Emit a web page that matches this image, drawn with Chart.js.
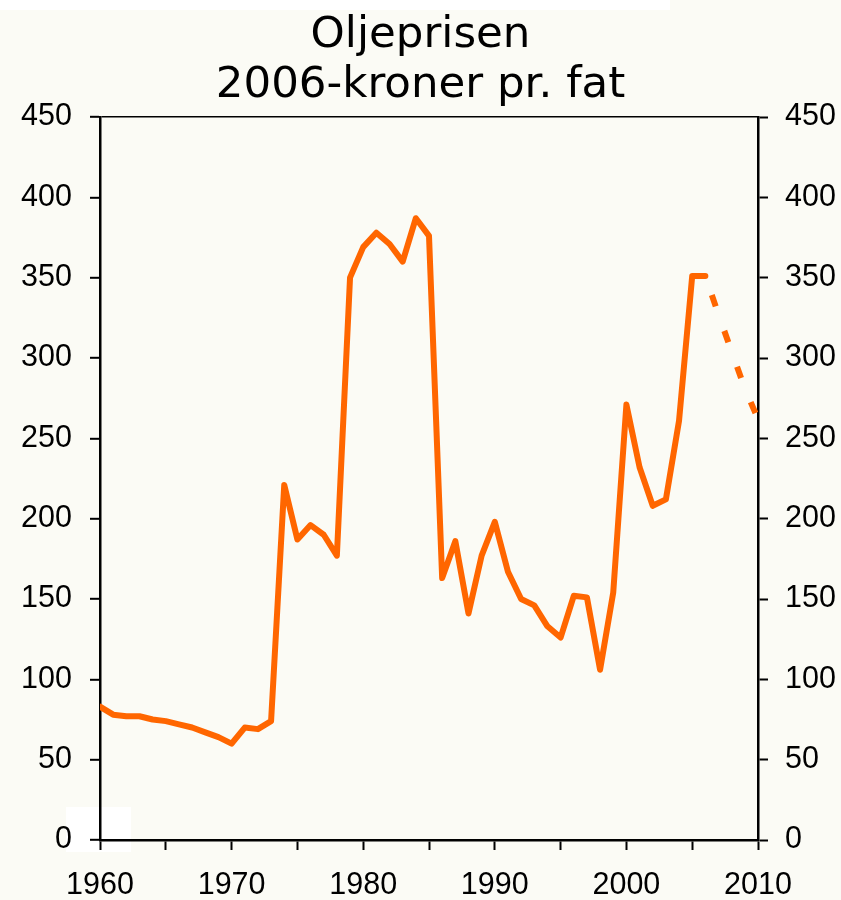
<!DOCTYPE html>
<html>
<head>
<meta charset="utf-8">
<script src="https://cdn.jsdelivr.net/npm/chart.js@4/dist/chart.umd.min.js"></script>
<style>
  html, body { margin: 0; padding: 0; background: #fbfbf5; }
  #wrap { position: relative; width: 841px; height: 900px; overflow: hidden; }
  .patch { position: absolute; background: #ffffff; }
  canvas { position: absolute; left: 0; top: 0; }
</style>
</head>
<body>
<div id="wrap">
  <div class="patch" style="left:0;top:0;width:670px;height:10px;"></div>
  <div class="patch" style="left:66px;top:807px;width:65px;height:45px;"></div>
  <canvas id="c" width="841" height="900"></canvas>
</div>
<script>
const titleLines = ['Oljeprisen', '2006-kroner pr. fat'];

const years = [1960,1961,1962,1963,1964,1965,1966,1967,1968,1969,
               1970,1971,1972,1973,1974,1975,1976,1977,1978,1979,
               1980,1981,1982,1983,1984,1985,1986,1987,1988,1989,
               1990,1991,1992,1993,1994,1995,1996,1997,1998,1999,
               2000,2001,2002,2003,2004,2005,2006];
const price = [83,78,77,77,75,74,72,70,67,64,
               60,70,69,74,221,187,196,190,177,350,
               369,378,371,360,387,376,163,186,141,177,
               198,167,150,146,133,126,152,151,106,154,
               271,232,208,212,261,351,351];

const forecastYears = [2006,2007,2008,2009,2010];
const forecastPrice = [351,327,304,281,262];

const yMin = 0, yMax = 450, yStep = 50;
const xMin = 1960, xMax = 2010, xStep = 5, xLabelEvery = 10;

const ORANGE = '#ff6600';
const tickFont = { family: '"Liberation Sans", Arial, sans-serif', size: 30.5 };

new Chart(document.getElementById('c'), {
  type: 'line',
  data: {
    datasets: [
      {
        data: years.map((y, i) => ({ x: y, y: price[i] })),
        borderColor: ORANGE,
        borderWidth: 6,
        borderJoinStyle: 'round',
        borderCapStyle: 'round',
        pointRadius: 0,
        tension: 0,
        fill: false
      },
      {
        data: forecastYears.map((y, i) => ({ x: y, y: forecastPrice[i] })),
        borderColor: ORANGE,
        borderWidth: 6,
        borderDash: [12, 26],
        borderDashOffset: 18,
        borderCapStyle: 'butt',
        pointRadius: 0,
        tension: 0,
        fill: false
      }
    ]
  },
  options: {
    responsive: false,
    animation: false,
    devicePixelRatio: 1,
    layout: { padding: 0 },
    plugins: {
      legend: { display: false },
      tooltip: { enabled: false },
      title: {
        display: true,
        text: titleLines,
        color: '#000',
        font: { family: '"DejaVu Sans", Verdana, sans-serif', size: 43.5, weight: 'normal', lineHeight: 50 / 43.5 },
        padding: { top: 11, bottom: 6 }
      }
    },
    scales: {
      x: {
        type: 'linear',
        position: 'bottom',
        min: xMin, max: xMax,
        afterFit(s) { s.height = 60; },
        ticks: {
          stepSize: xStep,
          autoSkip: false,
          maxRotation: 0,
          color: '#000',
          font: tickFont,
          padding: 17,
          callback: v => (v % xLabelEvery === 0 ? String(v) : '')
        },
        grid: { drawOnChartArea: false, drawTicks: true, tickLength: 10, tickColor: '#000', tickWidth: 2 },
        border: { display: true, color: '#000', width: 2.5 }
      },
      y: {
        position: 'left',
        min: yMin, max: yMax,
        afterFit(s) { s.width = 100; },
        ticks: { stepSize: yStep, color: '#000', font: tickFont, padding: 18 },
        grid: {
          drawOnChartArea: true,
          color: c => (c.tick && c.tick.value === yMax ? '#000' : 'rgba(0,0,0,0)'),
          lineWidth: 1.6,
          drawTicks: true, tickLength: 10, tickColor: '#000', tickWidth: 2
        },
        border: { display: true, color: '#000', width: 2.5 }
      },
      y2: {
        position: 'right',
        min: yMin, max: yMax,
        afterFit(s) { s.width = 83; },
        ticks: { stepSize: yStep, color: '#000', font: tickFont, padding: 17 },
        grid: { drawOnChartArea: false, drawTicks: true, tickLength: 10, tickColor: '#000', tickWidth: 2 },
        border: { display: true, color: '#000', width: 2.5 }
      }
    }
  }
});
</script>
</body>
</html>
